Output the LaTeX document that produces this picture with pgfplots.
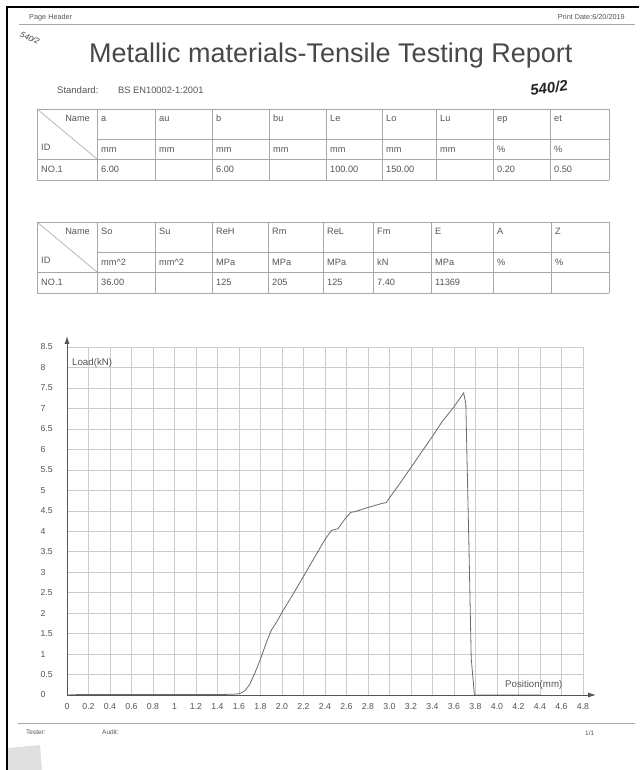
\documentclass[border=0pt]{standalone}
\usepackage{fontspec}
\setmainfont{Liberation Sans}
\usepackage{pgfplots}
\pgfplotsset{compat=1.18}
\usetikzlibrary{arrows.meta}
\definecolor{txt}{HTML}{555555}
\definecolor{ttl}{HTML}{484848}
\definecolor{tline}{HTML}{A8A8A8}
\definecolor{gridc}{HTML}{CCCCCC}
\definecolor{curvec}{HTML}{6A6A6A}
\newcommand{\fs}[1]{\fontsize{#1}{#1}\selectfont}
\begin{document}
\begin{tikzpicture}
\begin{scope}[x=1pt,y=-1pt,yshift=770pt]
\fill[white] (0,0) rectangle (639,770);
\path[use as bounding box] (0,0) rectangle (639,770);
% scan borders
\draw[black, line width=1.6pt] (7,770) -- (7,7) -- (639,7);
\fill[black!12] (8,748) -- (40,745) -- (42,770) -- (8,770) -- cycle;
% header
\node[anchor=base west, inner sep=0, text=txt, font=\fs{7.3}] at (29,20) {Page Header};
\node[anchor=base east, inner sep=0, text=txt, font=\fs{7.3}] at (625,20) {Print Date:6/20/2019};
\draw[tline, line width=0.7pt] (19,24) -- (635,24);
% handwriting
\node[rotate=-25, inner sep=0, text=black!75, font=\itshape\fs{8}] at (30,38) {540/2};
\node[rotate=8, inner sep=0, text=black!85, font=\itshape\bfseries\fs{15}] at (549,88) {540/2};
% title
\node[anchor=base west, inner sep=0, text=ttl, font=\fs{27}] at (89,63) {Metallic materials-Tensile Testing Report};
\node[anchor=base west, inner sep=0, text=txt, font=\fs{9.5}] at (57,94) {Standard:};
\node[anchor=base west, inner sep=0, text=txt, font=\fs{9.3}] at (118,94) {BS EN10002-1:2001};
% table 1
\begin{scope}[tline, line width=0.6pt]
\foreach \x in {37,97,155,212,269,326,382,436,493,550,609} \draw (\x,109) -- (\x,180);
\draw (37,109) -- (609,109);
\draw (97,139) -- (609,139);
\draw (37,159) -- (609,159);
\draw (37,180) -- (609,180);
\draw (37,109) -- (97,159);
\end{scope}
\begin{scope}[every node/.style={anchor=base west, inner sep=0, text=txt, font=\fs{9.2}}]
\node[anchor=base east] at (90,122) {Name};
\node at (41,151) {ID};
\node at (41,173) {NO.1};
\foreach \x/\n/\u in {101/a/mm,159/au/mm,216/b/mm,273/bu/mm,330/Le/mm,386/Lo/mm,440/Lu/mm,497/ep/\%,554/et/\%}{
  \node at (\x,122) {\n};
  \node at (\x,153) {\u};
}
\node at (101,173) {6.00};
\node at (216,173) {6.00};
\node at (330,173) {100.00};
\node at (386,173) {150.00};
\node at (497,173) {0.20};
\node at (554,173) {0.50};
\end{scope}
% table 2
\begin{scope}[tline, line width=0.6pt]
\foreach \x in {37,97,155,212,268,323,373,431,493,551,609} \draw (\x,222) -- (\x,293);
\draw (37,222) -- (609,222);
\draw (97,252) -- (609,252);
\draw (37,272) -- (609,272);
\draw (37,293) -- (609,293);
\draw (37,222) -- (97,272);
\end{scope}
\begin{scope}[every node/.style={anchor=base west, inner sep=0, text=txt, font=\fs{9.2}}]
\node[anchor=base east] at (90,235) {Name};
\node at (41,264) {ID};
\node at (41,286) {NO.1};
\foreach \x/\n/\u in {101/So/mm\^{}2,159/Su/mm\^{}2,216/ReH/MPa,272/Rm/MPa,327/ReL/MPa,377/Fm/kN,435/E/MPa,497/A/\%,555/Z/\%}{
  \node at (\x,235) {\n};
  \node at (\x,266) {\u};
}
\node at (101,286) {36.00};
\node at (216,286) {125};
\node at (272,286) {205};
\node at (327,286) {125};
\node at (377,286) {7.40};
\node at (435,286) {11369};
\end{scope}
\end{scope}

\begin{axis}[
  scale only axis, width=516pt, height=348pt,
  at={(67pt,75pt)}, anchor=south west,
  xmin=0, xmax=4.8, ymin=0, ymax=8.5,
  clip=false,
  axis line style={draw=none},
  tick style={draw=none},
  major tick length=0pt,
  grid=major,
  grid style={gridc, line width=0.5pt},
  xtick={0,0.2,0.4,0.6,0.8,1,1.2,1.4,1.6,1.8,2,2.2,2.4,2.6,2.8,3,3.2,3.4,3.6,3.8,4,4.2,4.4,4.6,4.8},
  xticklabels={0,0.2,0.4,0.6,0.8,1,1.2,1.4,1.6,1.8,2.0,2.2,2.4,2.6,2.8,3.0,3.2,3.4,3.6,3.8,4.0,4.2,4.4,4.6,4.8},
  ytick={0,0.5,1,1.5,2,2.5,3,3.5,4,4.5,5,5.5,6,6.5,7,7.5,8,8.5},
  yticklabels={0,0.5,1,1.5,2,2.5,3,3.5,4,4.5,5,5.5,6,6.5,7,7.5,8,8.5},
  ticklabel style={font=\fs{8.7}, text=txt},
  xticklabel style={yshift=-5pt},
  yticklabel style={anchor=west, xshift=-30pt},
]
\addplot[curvec, line width=0.8pt, no marks] coordinates {
(0,0) (0.1,0.01) (1.4,0.01) (1.55,0.02) (1.6,0.03) (1.63,0.06) (1.66,0.12)
(1.70,0.26) (1.75,0.55) (1.80,0.88) (1.86,1.32) (1.90,1.58) (1.95,1.78)
(2.00,2.02) (2.10,2.45) (2.20,2.90) (2.30,3.35) (2.40,3.80) (2.46,4.02)
(2.52,4.06) (2.58,4.28) (2.64,4.46) (2.68,4.48) (2.80,4.58) (2.93,4.68)
(2.97,4.70) (2.99,4.78) (3.10,5.18) (3.20,5.56) (3.30,5.94) (3.40,6.32)
(3.44,6.48) (3.49,6.68) (3.60,7.04) (3.69,7.38) (3.71,7.10) (3.74,3.5)
(3.76,0.9) (3.79,0) (4.40,0)
};
\end{axis}

\begin{scope}[x=1pt,y=-1pt,yshift=770pt]
\draw[txt, line width=0.8pt, -{Latex[length=8pt,width=5pt]}] (67,695) -- (67,336);
\draw[txt, line width=0.8pt, -{Latex[length=8pt,width=5pt]}] (67,695) -- (596,695);
\node[anchor=west, inner sep=0, text=txt, font=\fs{9.7}] at (72,363) {Load(kN)};
\node[anchor=west, inner sep=0, text=txt, font=\fs{9.7}] at (505,685) {Position(mm)};
% footer
\draw[tline, line width=0.7pt] (18,723) -- (635,723);
\node[anchor=base west, inner sep=0, text=txt, font=\fs{6.5}] at (26,735) {Tester:};
\node[anchor=base west, inner sep=0, text=txt, font=\fs{6.5}] at (102,735) {Audit:};
\node[anchor=base west, inner sep=0, text=txt, font=\fs{6.5}] at (585,736) {1/1};
\end{scope}
\end{tikzpicture}
\end{document}
